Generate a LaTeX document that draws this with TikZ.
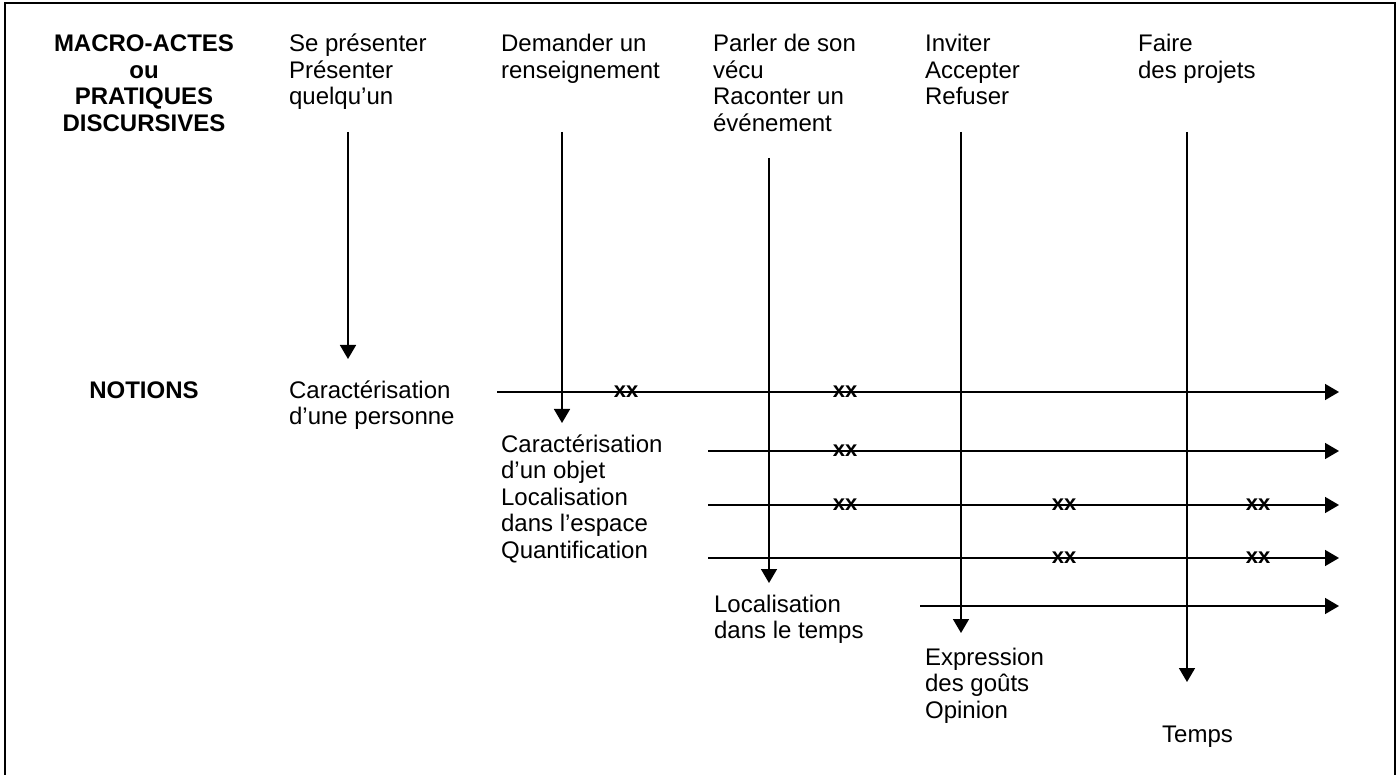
\documentclass[tikz,border=0pt]{standalone}
\usepackage{fontspec}
\setmainfont{Liberation Sans}
\usetikzlibrary{arrows.meta}
\newcommand\txtsize{\fontsize{24pt}{26.5pt}\selectfont}
\newcommand\xxsize{\fontsize{22pt}{24pt}\selectfont\bfseries}
\begin{document}
\begin{tikzpicture}[x=1pt,y=-1pt,line width=1.6pt]

      \useasboundingbox (0,0) rectangle (1398,775);
      \draw[line width=1.3pt] (5,775) -- (5,3) -- (1395,3) -- (1395,775);

      % titres de gauche (base = derniere ligne)
      \begin{scope}[every node/.style={anchor=base,align=center,font=\txtsize\bfseries}]
        \node (hdr) at (144,131.5) {MACRO-ACTES\\ou\\PRATIQUES\\DISCURSIVES};
        \node (not) at (144,399)   {NOTIONS};
      \end{scope}

      % macro-actes et notions
      \begin{scope}[every node/.style={anchor=base west,align=left,font=\txtsize}]
        \node (m1) at (285,105)   {Se présenter\\Présenter\\quelqu’un};
        \node (m2) at (497,78.5)  {Demander un\\renseignement};
        \node (m3) at (709,131.5) {Parler de son\\vécu\\Raconter un\\événement};
        \node (m4) at (921,105)   {Inviter\\Accepter\\Refuser};
        \node (m5) at (1134,78.5) {Faire\\des projets};
        \node (n1) at (285,424.5) {Caractérisation\\d’une personne};
        \node (n2) at (497,558)   {Caractérisation\\d’un objet\\Localisation\\dans l’espace\\Quantification};
        \node (n3) at (710,638.5) {Localisation\\dans le temps};
        \node (n4) at (921,718)   {Expression\\des goûts\\Opinion};
        \node (n5) at (1158,742)  {Temps};
      \end{scope}

      % bouts des fleches
      \coordinate (s1) at (348,132);  \coordinate (e1) at (348,359);
      \coordinate (s2) at (562,132);  \coordinate (e2) at (562,423);
      \coordinate (s3) at (769,158);  \coordinate (e3) at (769,583);
      \coordinate (s4) at (961,132);  \coordinate (e4) at (961,633);
      \coordinate (s5) at (1187,132); \coordinate (e5) at (1187,682);
      \coordinate (h1) at (497,392);  \coordinate (t1) at (1339,392);
      \coordinate (h2) at (708,451);  \coordinate (t2) at (1339,451);
      \coordinate (h3) at (708,505);  \coordinate (t3) at (1339,505);
      \coordinate (h4) at (708,558);  \coordinate (t4) at (1339,558);
      \coordinate (h5) at (920,606);  \coordinate (t5) at (1339,606);

      \begin{scope}[every edge/.style={draw,-{Triangle[length=14pt,width=16pt]}}]
        \path (h1) edge (t1);
        \path (h2) edge (t2);
        \path (h3) edge (t3);
        \path (h4) edge (t4);
        \path (h5) edge (t5);
        \path (s1) edge (e1);
        \path (s2) edge (e2);
        \path (s3) edge (e3);
        \path (s4) edge (e4);
        \path (s5) edge (e5);
      \end{scope}

      \begin{scope}[every node/.style={inner sep=0pt,font=\xxsize}]
        \node (x1) at (626,392)  {xx};
        \node (x2) at (845,392)  {xx};
        \node (x3) at (845,451)  {xx};
        \node (x4) at (845,505)  {xx};
        \node (x5) at (1064,505) {xx};
        \node (x6) at (1258,505) {xx};
        \node (x7) at (1064,558) {xx};
        \node (x8) at (1258,558) {xx};
      \end{scope}

    \end{tikzpicture}
\end{document}
